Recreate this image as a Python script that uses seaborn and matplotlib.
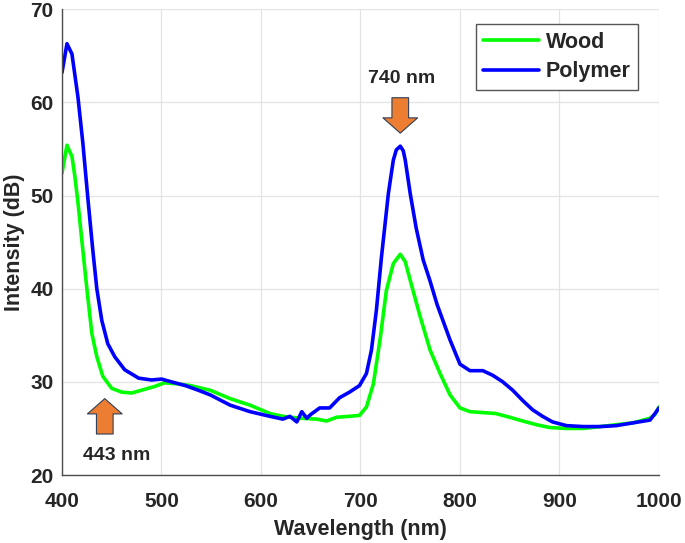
import pandas as pd
import matplotlib.pyplot as plt
import seaborn as sns

# values
wood_nm = [400, 405, 410, 413, 416, 421, 425, 430, 435, 441, 450, 460, 470, 483,
           493, 503, 515, 529, 549, 569, 589, 609, 622, 639, 656, 666, 676, 689,
           699, 706, 713, 720, 726, 733, 740, 745, 750, 760, 770, 780, 790, 800,
           810, 823, 836, 850, 863, 877, 890, 907, 924, 941, 957, 974, 991, 996,
           1000]
wood_db = [52.4, 55.4, 54.2, 52.0, 49.3, 44.1, 40.0, 35.2, 32.7, 30.6, 29.3, 28.9,
           28.8, 29.2, 29.5, 29.9, 29.8, 29.6, 29.1, 28.2, 27.5, 26.6, 26.3, 26.1,
           26.0, 25.8, 26.2, 26.3, 26.4, 27.3, 29.8, 34.8, 39.8, 42.7, 43.7, 42.9,
           40.9, 37.0, 33.4, 30.9, 28.6, 27.2, 26.8, 26.7, 26.6, 26.2, 25.8, 25.4,
           25.1, 25.0, 25.0, 25.2, 25.4, 25.6, 26.1, 26.5, 27.3]

poly_nm = [400, 405, 410, 416, 421, 426, 431, 435, 440, 446, 453, 463, 477, 490,
           500, 510, 524, 537, 549, 569, 589, 609, 622, 629, 636, 641, 646, 650,
           659, 669, 679, 689, 699, 706, 711, 716, 721, 728, 733, 736, 740, 743,
           745, 750, 756, 763, 770, 777, 790, 800, 810, 823, 833, 843, 853, 863,
           873, 883, 893, 907, 924, 941, 957, 974, 991, 996, 1000]
poly_db = [63.2, 66.3, 65.2, 60.6, 55.6, 49.7, 44.1, 40.0, 36.6, 34.1, 32.7, 31.3,
           30.4, 30.2, 30.3, 30.0, 29.6, 29.1, 28.6, 27.5, 26.8, 26.3, 26.0, 26.3,
           25.7, 26.8, 26.1, 26.5, 27.2, 27.2, 28.3, 28.9, 29.6, 30.9, 33.4, 37.7,
           43.3, 50.2, 53.8, 54.9, 55.3, 54.8, 53.8, 50.2, 46.5, 43.1, 40.8, 38.3,
           34.5, 31.9, 31.2, 31.2, 30.7, 30.0, 29.1, 28.0, 27.0, 26.3, 25.7, 25.3,
           25.2, 25.2, 25.3, 25.6, 25.9, 26.6, 27.2]

series = ["Wood", "Polymer"]
colors = {"Wood": "#00ff00", "Polymer": "#0000ff"}

df = pd.concat([
    pd.DataFrame({"nm": wood_nm, "dB": wood_db, "Sample": "Wood"}),
    pd.DataFrame({"nm": poly_nm, "dB": poly_db, "Sample": "Polymer"}),
])

sns.set_style("whitegrid")
plt.rcParams["font.family"] = ["Liberation Sans", "DejaVu Sans"]
plt.rcParams["font.weight"] = "bold"

fig = plt.figure(figsize=(6.85, 5.43), dpi=100)
ax = fig.add_axes([0.0905, 0.1252, 0.8715, 0.8578])

sns.lineplot(data=df, x="nm", y="dB", hue="Sample", hue_order=series,
             palette=colors, sort=False, estimator=None, linewidth=2.6, ax=ax)

ax.set_xlim(400, 1000)
ax.set_ylim(20, 70)
ax.set_xticks(range(400, 1001, 100))
ax.set_yticks(range(20, 71, 10))
ax.grid(True, color="#e3e3e3", linewidth=0.9)
for s in ["top", "right"]:
    ax.spines[s].set_visible(False)
for s in ["left", "bottom"]:
    ax.spines[s].set_color("#4d4d4d")
    ax.spines[s].set_linewidth(1.0)
ax.tick_params(direction="in", length=4, width=1.0, color="#4d4d4d",
               labelsize=15, labelcolor="#262626")
ax.tick_params(axis="x", pad=12)
ax.tick_params(axis="y", pad=6)
ax.set_xlabel("Wavelength (nm)", fontsize=15.5, fontweight="bold", color="#262626", labelpad=6)
ax.set_ylabel("Intensity (dB)", fontsize=15.5, fontweight="bold", color="#262626", labelpad=4)

leg = ax.legend(loc="upper right", bbox_to_anchor=(0.965, 0.968), borderaxespad=0,
                fancybox=False, framealpha=1, edgecolor="#555555",
                prop={"size": 15.5, "weight": "bold"}, handlelength=2.6,
                handletextpad=0.3, borderpad=0.35, labelspacing=0.4)
leg.get_frame().set_linewidth(1.0)
for line in leg.get_lines():
    line.set_linewidth(2.6)

# peak markers
arrow = dict(arrowstyle="simple,head_length=0.55,head_width=1.25,tail_width=0.6",
             fc="#ed7d31", ec="#2f4058", lw=0.8, mutation_scale=20,
             shrinkA=0, shrinkB=0)
ax.annotate("", xy=(443, 28.2), xytext=(443, 24.4), arrowprops=arrow)
ax.text(455, 22.1, "443 nm", ha="center", va="center", fontsize=14,
        fontweight="bold", color="#262626")
ax.annotate("", xy=(740, 56.7), xytext=(740, 60.5), arrowprops=arrow)
ax.text(741.5, 62.6, "740 nm", ha="center", va="center", fontsize=14,
        fontweight="bold", color="#262626")

plt.savefig("out.png", dpi=100)
plt.close()
